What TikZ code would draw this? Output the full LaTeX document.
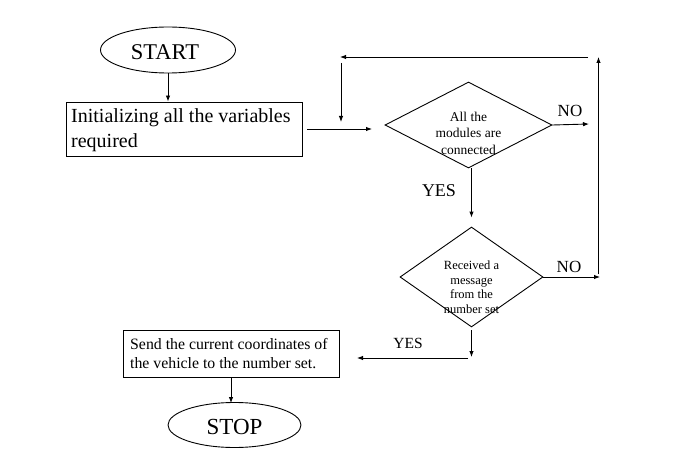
\documentclass[tikz,border=0pt]{standalone}
\usepackage{fontspec}
\setmainfont{Liberation Serif}
\usetikzlibrary{shapes.geometric,arrows.meta}
\tikzset{
  conn/.style={draw=black, line width=0.9pt, -{Latex[length=6pt,width=4.5pt]}},
  term/.style={ellipse, draw=black, line width=0.9pt, inner sep=0pt},
  procbox/.style={rectangle, draw=black, line width=0.9pt, inner sep=0pt},
  decis/.style={diamond, draw=black, line width=0.9pt, inner sep=0pt},
  lbl/.style={inner sep=0pt, align=center}
}
\begin{document}
\begin{tikzpicture}[x=1pt,y=-1pt]
\useasboundingbox (0,0) rectangle (689,460);
% terminals
\node[term, minimum width=135pt, minimum height=46pt] (start) at (168,50) {};
\node[lbl, font=\fontsize{22.5}{26}\selectfont] (starttxt) at (165,52) {START};
\node[term, minimum width=133pt, minimum height=45pt] (stop) at (234.5,425) {};
\node[lbl, font=\fontsize{23}{26}\selectfont] (stoptxt) at (234.5,427) {STOP};
% process boxes
\node[procbox, minimum width=236pt, minimum height=54pt] (init) at (184,129) {};
\node[lbl, align=left, anchor=west, font=\fontsize{20}{25}\selectfont] (inittxt) at (71,130) {Initializing all the variables\\required};
\node[procbox, minimum width=216pt, minimum height=47pt] (send) at (231,353.5) {};
\node[lbl, align=left, anchor=west, font=\fontsize{15.8}{19}\selectfont] (sendtxt) at (130,354) {Send the current coordinates of\\the vehicle to the number set.};
% decisions
\node[decis, minimum width=167pt, minimum height=86pt] (d1) at (468.5,125) {};
\node[lbl, font=\fontsize{13.5}{16.5}\selectfont] (d1txt) at (468.5,133) {All the\\modules are\\connected};
\node[decis, minimum width=143pt, minimum height=100pt] (d2) at (471.5,277) {};
\node[lbl, font=\fontsize{12.5}{14.5}\selectfont] (d2txt) at (471.5,287) {Received a\\message\\from the\\number set};
% labels
\node[lbl, font=\fontsize{17}{20}\selectfont] (no1) at (570,111) {NO};
\node[lbl, font=\fontsize{18}{20}\selectfont] (yes1) at (439,191) {YES};
\node[lbl, font=\fontsize{17}{20}\selectfont] (no2) at (569,267) {NO};
\node[lbl, font=\fontsize{15.5}{18}\selectfont] (yes2) at (408,343) {YES};
% coordinates
\coordinate (a1) at (307,129);
\coordinate (a2) at (372,129);
\coordinate (topR) at (588,57);
\coordinate (topL) at (340,57);
\coordinate (vTop) at (341,63);
\coordinate (vBot) at (341,122);
\coordinate (no1end) at (589,124);
\coordinate (no2end) at (600,277);
\coordinate (rBot) at (598.5,274);
\coordinate (rTop) at (598.5,57);
\coordinate (yesdown) at (471.5,357);
\coordinate (hR) at (468,358);
\coordinate (hL) at (357,358);
% connectors
\draw[conn] (start.south) -- (start.south |- init.north);
\draw[conn] (a1) -- (a2);
\draw[conn] (topR) -- (topL);
\draw[conn] (vTop) -- (vBot);
\draw[conn] (d1.east) -- (no1end);
\draw[conn] (d1.south -| d2.north) -- ([yshift=9pt]d2.north);
\draw[conn] (d2.east) -- (no2end);
\draw[conn] (rBot) -- (rTop);
\draw[conn] ([yshift=-3pt]d2.south) -- (yesdown);
\draw[conn] (hR) -- (hL);
\draw[conn] (send.south) -- ([yshift=-1pt]send.south |- stop.north);
\end{tikzpicture}
\end{document}
